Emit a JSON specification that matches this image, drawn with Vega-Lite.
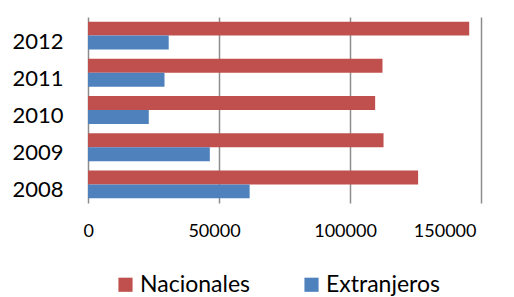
{
  "$schema": "https://vega.github.io/schema/vega-lite/v6.json",
  "width": 393,
  "height": 186,
  "autosize": {"type": "none"},
  "padding": {"left": 88, "top": 17, "right": 33, "bottom": 94},
  "background": "white",
  "config": {
    "view": {"stroke": null},
    "font": "Lato"
  },
  "data": {
    "values": [
      {"year": "2012", "series": "Nacionales", "value": 145500},
      {"year": "2012", "series": "Extranjeros", "value": 30800},
      {"year": "2011", "series": "Nacionales", "value": 112400},
      {"year": "2011", "series": "Extranjeros", "value": 29200},
      {"year": "2010", "series": "Nacionales", "value": 109600},
      {"year": "2010", "series": "Extranjeros", "value": 23200},
      {"year": "2009", "series": "Nacionales", "value": 112800},
      {"year": "2009", "series": "Extranjeros", "value": 46500},
      {"year": "2008", "series": "Nacionales", "value": 126000},
      {"year": "2008", "series": "Extranjeros", "value": 61700}
    ]
  },
  "mark": {"type": "bar"},
  "encoding": {
    "y": {
      "field": "year",
      "type": "nominal",
      "sort": ["2012", "2011", "2010", "2009", "2008"],
      "scale": {"paddingInner": 0.25, "paddingOuter": 0.125},
      "axis": {
        "title": null,
        "ticks": false,
        "domain": false,
        "labelFontSize": 22,
        "labelColor": "#000000",
        "labelPadding": 25,
        "labelOffset": 6
      }
    },
    "yOffset": {
      "field": "series",
      "type": "nominal",
      "sort": ["Nacionales", "Extranjeros"],
      "scale": {"paddingInner": 0, "paddingOuter": 0}
    },
    "x": {
      "field": "value",
      "type": "quantitative",
      "scale": {"domain": [0, 150000], "nice": false},
      "axis": {
        "title": null,
        "values": [0, 50000, 100000, 150000],
        "format": "d",
        "ticks": false,
        "domain": false,
        "labelFontSize": 18,
        "labelColor": "#000000",
        "labelPadding": 19,
        "labelOffset": -5,
        "grid": true,
        "gridColor": "#8c8c8c",
        "gridWidth": 1.5
      }
    },
    "color": {
      "field": "series",
      "type": "nominal",
      "scale": {"domain": ["Nacionales", "Extranjeros"], "range": ["#C0504D", "#4F81BD"]},
      "legend": {
        "title": null,
        "orient": "none",
        "direction": "horizontal",
        "legendX": 26,
        "legendY": 256,
        "symbolType": "square",
        "symbolSize": 200,
        "symbolStrokeWidth": 0,
        "labelFontSize": 23,
        "labelColor": "#000000",
        "columnPadding": 50,
        "labelOffset": 3
      }
    }
  }
}
